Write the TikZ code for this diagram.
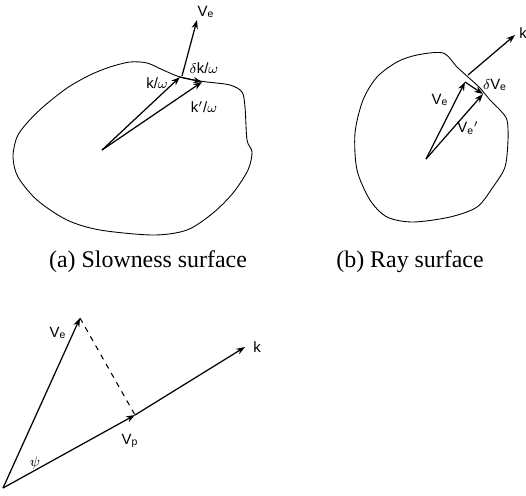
\documentclass[tikz,border=0pt]{standalone}
\usepackage{fontspec}
\setmainfont{Liberation Serif}
\setsansfont{Liberation Sans}
\usetikzlibrary{arrows.meta}
\tikzset{
  vec/.style={-{Stealth[length=5pt,width=3.6pt]}, line width=0.7pt},
  lbl/.style={font=\sffamily\fontsize{8.5}{10}\selectfont, inner sep=0pt},
  caption/.style={font=\fontsize{13.6}{15}\selectfont, inner sep=0pt}
}
\begin{document}
\begin{tikzpicture}[x={(0.02cm,0)}, y={(0,-0.02cm)}]
        \useasboundingbox (0,0) rectangle (526,495);
        % (a) slowness surface
        \draw [line width=0.5pt] plot [smooth cycle, tension=0.5] coordinates
        {(17,137) (13,157) (18,177) (37,200) (67,220) (100,230) (153,235) (187,230)
         (213,213) (233,193) (248,170) (252,152) (247,140) (245,107) (242,92) (230,85)
         (207,82) (200,81) (180,77) (163,70) (147,63) (130,62) (110,67) (90,75)
         (67,88) (43,107) (27,123)};
        \coordinate (Oa) at (102,150);
        \coordinate (ka) at (180,77);
        \coordinate (kpa) at (202,82);
        \coordinate (Vea) at (197,20);
        \draw [vec] (Oa)--(ka);
        \draw [vec] (Oa)--(kpa);
        \draw [vec] (ka)--(kpa);
        \draw [vec] (182,76)--(Vea);
        \node[lbl] (lVea) at (206,12) {V\textsubscript{e}};
        \node[lbl] (ldka) at (204,68) {$\delta$k/$\omega$};
        \node[lbl] (lka) at (157,83) {k/$\omega$};
        \node[lbl] (lkpa) at (204,107) {k$'$/$\omega$};
        \node[caption] (capa) at (148,262) {(a) Slowness surface};
        % (b) ray surface
        \draw [line width=0.5pt] plot [smooth cycle, tension=0.5] coordinates
        {(417,55) (443,53) (457,67) (468,77) (480,88) (490,100) (500,110) (507,120)
         (508,140) (505,167) (493,187) (477,207) (450,217) (413,222) (387,217) (370,200)
         (357,170) (355,133) (363,100) (377,77) (397,62)};
        \coordinate (Ob) at (426,159);
        \coordinate (Veb) at (465,82);
        \coordinate (Vepb) at (483,94);
        \coordinate (kb) at (515,35);
        \draw [vec] (Ob)--(Veb);
        \draw [vec] (Ob)--(Vepb);
        \draw [vec] (Veb)--(Vepb);
        \draw [vec] (468,75)--(kb);
        \node[lbl, anchor=west] (lkb) at (519,33) {k};
        \node[lbl] (ldVeb) at (495,85) {$\delta$V\textsubscript{e}};
        \node[lbl] (lVeb) at (440,100) {V\textsubscript{e}};
        \node[lbl] (lVepb) at (468,128) {V\textsubscript{e}$'$};
        \node[caption] (capb) at (410,262) {(b) Ray surface};
        % (c) velocity triangle
        \coordinate (Oc) at (3,488);
        \coordinate (Vec) at (80,318);
        \coordinate (Vpc) at (135,415);
        \coordinate (kc) at (245,347);
        \draw [vec] (Oc)--(Vec);
        \draw [vec] (Oc)--(Vpc);
        \draw [vec] (Vpc)--(kc);
        \draw [dashed, line width=0.6pt] (Vec)--(Vpc);
        \node[lbl] (lVec) at (58,333) {V\textsubscript{e}};
        \node[lbl] (lVpc) at (130,441) {V\textsubscript{p}};
        \node[lbl] (lpsi) at (35,463) {$\psi$};
        \node[lbl] (lkc) at (257,347) {k};
      \end{tikzpicture}
\end{document}
